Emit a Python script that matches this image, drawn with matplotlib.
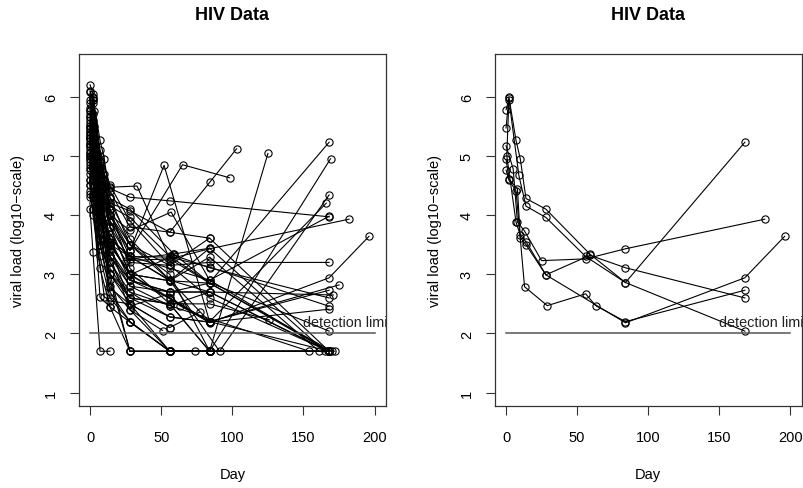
import matplotlib
matplotlib.use("Agg")
import matplotlib.pyplot as plt

plt.rcParams['font.family'] = ['Liberation Sans', 'DejaVu Sans']

# ---- data: one list per subject (day of measurement, log10 viral load) ----
subject_days = [
    [0, 2, 7, 10, 14, 28, 59, 84, 168],      # 1
    [0, 2, 9, 14, 28, 56, 84, 168],          # 2
    [0, 5, 8, 13, 25, 56, 84, 182],          # 3
    [0, 2, 8, 10, 14, 28, 59, 84, 168],      # 4
    [0, 2, 7, 13, 29, 56, 63, 84, 168],      # 5
    [2, 0.5, 7, 10, 14, 28, 84, 168, 196],   # 6
    [0, 2, 7, 14, 28, 56, 84, 169],
    [0, 2, 7, 14, 28, 56, 91, 168],
    [0, 3, 7, 14, 28, 56, 84, 166],
    [0, 2, 7, 14, 28, 56, 168],
    [0, 2, 7, 14, 28, 56, 84, 168],
    [0, 2, 7, 14, 28, 56, 84, 168],
    [0, 2, 7, 14, 28, 56, 84, 175],
    [0, 2, 7, 14, 28, 56, 84, 171],
    [0, 2, 7, 14, 28, 56, 84, 168],
    [0, 2, 7, 14, 28, 56, 84, 168],
    [0, 2, 7, 14, 28, 56, 84, 168],
    [0, 2, 7, 14, 28, 56, 84, 165],
    [0, 2, 7, 14, 28, 56, 84, 170],
    [0, 2, 7, 14, 28, 56, 84, 167],
    [0, 2, 7, 14, 28, 56, 84, 161],
    [0, 2, 7, 14, 28, 56, 154],
    [0, 2, 7, 14, 28, 65, 98],
    [0, 2, 7, 14, 28, 52, 84],
    [0, 2, 7, 14, 28, 56, 84, 103],
    [0, 2, 7, 14, 28, 56, 84, 125],
    [0, 2, 7, 14, 28, 56, 84, 126],
    [0, 2, 7, 14, 28, 56, 77],
    [0, 2, 7, 14, 28, 51],
    [0, 2, 7, 14],
    [0, 2, 7, 14, 28, 56, 84, 168],
    [0, 2, 7, 14, 28, 56, 84, 168],
    [0, 2, 7, 14, 28, 56, 84, 172],
    [0, 2, 7, 14, 28, 56, 84],
    [0, 2, 7, 14, 28, 56, 74],
    [0, 2, 7, 14, 28, 56, 84, 168],
    [0, 2, 7, 14, 28, 56, 84, 168],
    [0, 2, 7, 10, 14, 28, 56, 84, 168],
    [0, 2, 7, 14, 28, 57, 84, 168],
    [0, 2, 7, 14, 28, 56, 84],
    [0, 2, 7, 14, 28, 56, 84],
    [0, 2, 7, 14, 28, 56, 84],
    [0, 2, 7, 14, 28, 58, 84],
    [0, 2, 7, 14, 28, 56, 84],
    [0, 2, 7, 14, 28, 56, 84],
    [0, 3, 10, 14, 33, 56, 84, 168],
    [0, 2, 7, 14, 28, 56, 84, 168],
    [0, 2, 7, 14, 28, 56, 84],
    [0, 2, 10, 14, 28, 56],
    [0, 2, 7, 14, 28, 56, 84, 168],
]
subject_load = [
    [5.47, 5.99, 5.26, 4.95, 4.28, 4.10, 3.34, 2.86, 5.23],
    [5.78, 5.95, 4.67, 4.15, 3.96, 3.30, 2.86, 2.04],
    [5.17, 4.78, 3.88, 3.73, 3.23, 3.26, 3.43, 3.93],
    [4.94, 4.61, 4.44, 3.62, 3.50, 2.99, 3.32, 3.11, 2.60],
    [4.76, 4.59, 4.41, 2.79, 2.47, 2.67, 2.47, 2.20, 2.73],
    [5.97, 5.00, 3.88, 3.66, 3.55, 2.99, 2.18, 2.94, 3.64],
    [6.20, 6.05, 5.00, 4.10, 3.10, 2.50, 1.70, 4.95],
    [6.08, 5.90, 4.90, 4.30, 3.50, 2.90, 1.70, 4.34],
    [5.90, 5.75, 4.80, 3.80, 3.00, 2.60, 2.20, 4.20],
    [5.50, 5.30, 4.70, 4.45, 4.30, 4.24, 3.97],
    [5.40, 5.20, 4.30, 3.60, 3.30, 3.10, 2.90, 3.98],
    [5.20, 5.05, 4.50, 4.00, 3.50, 3.15, 3.20, 3.20],
    [5.30, 5.10, 4.20, 3.40, 2.90, 2.60, 2.20, 2.82],
    [5.00, 4.85, 4.00, 3.30, 2.80, 2.70, 2.70, 2.65],
    [5.10, 4.95, 4.20, 3.50, 3.30, 3.29, 3.12, 2.46],
    [4.80, 4.60, 3.80, 3.10, 2.60, 2.28, 2.19, 2.41],
    [5.60, 5.40, 4.60, 3.90, 3.20, 3.15, 3.61, 1.70],
    [5.45, 5.25, 4.50, 3.80, 3.00, 2.89, 3.44, 1.70],
    [5.35, 5.15, 4.30, 3.60, 2.90, 2.70, 2.85, 1.70],
    [5.25, 5.00, 4.10, 3.40, 2.80, 2.47, 2.70, 1.70],
    [5.15, 4.90, 4.20, 3.50, 3.00, 2.89, 3.29, 1.70],
    [4.90, 4.70, 3.90, 3.20, 2.70, 2.47, 1.70],
    [5.30, 5.40, 4.50, 3.90, 3.40, 4.85, 4.63],
    [5.50, 5.30, 4.70, 4.00, 3.40, 4.84, 2.20],
    [5.70, 5.50, 4.90, 4.40, 3.80, 3.71, 4.55, 5.12],
    [5.65, 5.45, 4.80, 4.10, 3.50, 3.00, 1.70, 5.04],
    [5.00, 4.80, 4.00, 3.20, 2.60, 2.50, 2.50, 2.23],
    [4.70, 4.50, 3.60, 3.00, 2.50, 2.10, 2.36],
    [4.60, 4.30, 3.50, 2.80, 2.40, 2.05],
    [4.10, 3.38, 1.70, 1.70],
    [5.80, 5.60, 4.50, 3.50, 2.50, 1.70, 1.70, 1.70],
    [5.55, 5.35, 4.40, 3.30, 2.40, 1.70, 1.70, 1.70],
    [5.30, 5.00, 4.00, 3.00, 1.70, 1.70, 1.70, 1.70],
    [5.05, 4.80, 3.70, 2.90, 1.70, 1.70, 1.70],
    [4.85, 4.60, 3.50, 2.70, 2.20, 1.70, 1.70],
    [4.50, 4.20, 3.30, 2.60, 2.20, 1.70, 1.70, 1.70],
    [4.40, 4.00, 3.10, 2.45, 1.70, 1.70, 1.70, 1.70],
    [5.95, 5.70, 4.90, 4.60, 4.00, 3.30, 2.90, 2.20, 1.70],
    [5.35, 5.20, 4.50, 4.00, 3.74, 4.05, 2.90, 1.70],
    [4.30, 4.10, 3.50, 3.00, 2.60, 2.50, 1.70],
    [4.95, 4.70, 3.90, 3.30, 2.90, 2.70, 2.70],
    [5.05, 4.85, 4.10, 3.60, 3.30, 2.89, 2.85],
    [5.20, 5.00, 4.40, 3.80, 3.26, 3.34, 3.44],
    [4.60, 4.35, 3.60, 3.00, 2.70, 2.28, 2.19],
    [5.40, 5.25, 4.60, 4.20, 4.07, 3.71, 3.61],
    [5.65, 5.50, 4.70, 4.47, 4.49, 3.26, 2.85, 1.70],
    [5.75, 5.55, 4.80, 4.20, 3.60, 2.90, 2.70, 1.70],
    [4.50, 4.30, 2.61, 2.45, 2.19, 1.70, 1.70],
    [4.35, 4.10, 2.62, 2.55, 2.50, 2.10],
    [6.10, 5.95, 5.10, 4.50, 3.90, 3.15, 2.60, 1.70],
]
right_panel_subjects = [0, 1, 2, 3, 4, 5]

detection_limit = 2.0
x_ticks = [0, 50, 100, 150, 200]
y_ticks = [1, 2, 3, 4, 5, 6]
title_text = "HIV Data"
x_label = "Day"
y_label = "viral load (log10\u2212scale)"

# ---- figure ----
W, H = 804, 489
fig = plt.figure(figsize=(W / 100, H / 100), dpi=100)
ax_l = fig.add_axes([78.7 / W, (H - 406.7) / H, (386 - 78.7) / W, (406.7 - 55) / H])
ax_r = fig.add_axes([494.7 / W, (H - 406.7) / H, (801.7 - 494.7) / W, (406.7 - 55) / H])


def draw(ax, subjects):
    for i in subjects:
        ax.plot(subject_days[i], subject_load[i], '-o', color='black', lw=0.8,
                markersize=5.2, markerfacecolor='none', markeredgewidth=0.8,
                markeredgecolor='black')
    ax.plot([0, 200], [detection_limit, detection_limit], color='#555555', lw=1.1)
    ax.text(150, detection_limit + 0.19, "detection limit", fontsize=10.35,
            ha='left', va='center', clip_on=True, color='#222222')
    ax.set_xlim(-8, 208)
    ax.set_ylim(0.78, 6.72)
    ax.set_xticks(x_ticks)
    ax.set_yticks(y_ticks)
    ax.tick_params(direction='out', length=6.5, width=0.8, labelsize=10.5,
                   color='#333333')
    ax.tick_params(axis='x', pad=11)
    ax.tick_params(axis='y', pad=8.5)
    for lab in ax.get_yticklabels():
        lab.set_rotation(90)
        lab.set_va('center')
    for s in ax.spines.values():
        s.set_linewidth(0.9)
        s.set_color('#333333')


draw(ax_l, range(len(subject_days)))
draw(ax_r, right_panel_subjects)

for ax, cx, ylx in [(ax_l, (78.7 + 386) / 2, 18.3), (ax_r, (494.7 + 801.7) / 2, 434.5)]:
    fig.text(cx / W, 1 - 15.7 / H, title_text, ha='center', va='center',
             fontsize=13, fontweight='bold')
    fig.text(cx / W, 1 - 475 / H, x_label, ha='center', va='center', fontsize=10.5)
    fig.text(ylx / W, 1 - 231 / H, y_label, ha='center', va='center',
             rotation=90, fontsize=10.5)

fig.savefig("out.png", dpi=100)
